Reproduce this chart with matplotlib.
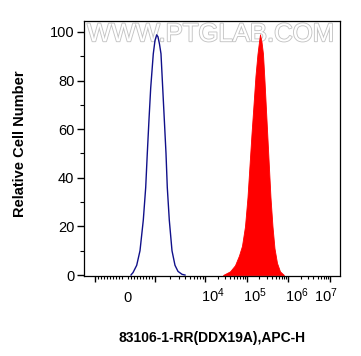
import numpy as np
import matplotlib
matplotlib.use("Agg")
import matplotlib.pyplot as plt
import matplotlib.patheffects as pe
from matplotlib.ticker import FixedLocator, NullFormatter

plt.rcParams["font.family"] = ["Liberation Sans", "DejaVu Sans"]
plt.rcParams["mathtext.fontset"] = "custom"
plt.rcParams["mathtext.rm"] = "Liberation Sans"

# control sample (blue outline), APC-H intensity vs count
ctrl_x = [200, 217, 267, 390, 500, 610, 690, 743, 800, 857, 943, 1000,
          1081, 1148, 1230, 1318, 1426, 1535, 1660, 1762, 1932, 2188,
          2512, 2884, 3467, 3981]
ctrl_y = [0, 0.3, 1, 4, 10, 22.6, 36, 50, 64, 77, 91, 96.5,
          98.8, 98, 95, 91, 77, 64, 50, 36, 22.6, 10,
          4, 1.5, 0.3, 0]

# stained sample (red fill)
stain_x = [27000, 39800, 52400, 65300, 77100, 91000, 104500, 116700,
           130300, 145600, 162500, 181500, 197300, 208500, 226500, 246000,
           267300, 290300, 315400, 342600, 372200, 415900, 464500, 533400,
           629500, 783000]
stain_y = [0, 1.5, 4, 8, 12, 20, 32, 45,
           58, 70, 82, 91, 96, 99, 96, 91,
           80, 68, 56, 44, 32, 20, 11, 5,
           1.5, 0]

x_major = [-1000, 1000, 1e4, 1e5, 1e6, 1e7]
x_labels = ["0", "$\\mathregular{10^4}$", "$\\mathregular{10^5}$",
            "$\\mathregular{10^6}$", "$\\mathregular{10^7}$"]
x_label_pos = [0, 1e4, 1e5, 1e6, 1e7]
x_label_shift = [2, 6, 6, 6, -3]   # points, to sit like the original

# biexponential-like display transform (linear near zero, log beyond)
Z, H, W1, D = 125.0, 30.0, 50.0, 41.7


def fwd(v):
    v = np.atleast_1d(np.asarray(v, dtype=float))
    u = np.zeros_like(v)
    lin = np.abs(v) <= 1000
    u[lin] = Z + H * v[lin] / 1000
    mid = (v > 1000) & (v <= 1e4)
    u[mid] = Z + H + W1 * np.log10(v[mid] / 1000)
    hi = v > 1e4
    u[hi] = Z + H + W1 + D * (np.log10(v[hi]) - 4)
    neg = v < -1000
    u[neg] = Z - H - W1 * np.log10(-v[neg] / 1000)
    return u


def inv(u):
    u = np.atleast_1d(np.asarray(u, dtype=float))
    v = np.zeros_like(u)
    lin = np.abs(u - Z) <= H
    v[lin] = (u[lin] - Z) / H * 1000
    mid = (u > Z + H) & (u <= Z + H + W1)
    v[mid] = 1000 * 10 ** ((u[mid] - Z - H) / W1)
    hi = u > Z + H + W1
    v[hi] = 10 ** (4 + (u[hi] - Z - H - W1) / D)
    neg = u < Z - H
    v[neg] = -1000 * 10 ** ((Z - H - u[neg]) / W1)
    return v


fig = plt.figure(figsize=(3.61, 3.56), dpi=100)
ax = fig.add_axes([84 / 361, 1 - 276 / 356, 256 / 361, 255 / 356])
ax.set_xscale("function", functions=(fwd, inv))
ax.set_xlim(-1660, 1.73e7)
ax.set_ylim(-0.4, 104.5)

ax.fill_between(stain_x, stain_y, 0, color="#ff0000", lw=0.6, zorder=2)
ax.plot(ctrl_x, ctrl_y, color="#10108a", lw=1.0, zorder=3)

# x ticks
minor = [s * m for s in (-1, 1) for m in range(100, 1000, 100)]
for dec in range(3, 7):
    minor += [k * 10 ** dec for k in range(2, 10)]
ax.xaxis.set_major_locator(FixedLocator(x_major))
ax.xaxis.set_minor_locator(FixedLocator(minor))
ax.xaxis.set_major_formatter(NullFormatter())
ax.xaxis.set_minor_formatter(NullFormatter())
ax.tick_params(axis="x", which="major", direction="out", length=4.5, width=1.0)
ax.tick_params(axis="x", which="minor", direction="out", length=2.2, width=0.8)

for pos, lab, sh in zip(x_label_pos, x_labels, x_label_shift):
    ax.annotate(lab, xy=(pos, 0), xycoords=("data", "axes fraction"),
                xytext=(sh, -19), textcoords="offset points",
                ha="center", va="baseline", fontsize=10.5)

# y ticks
ax.set_yticks(np.arange(0, 101, 20))
ax.set_yticks(np.arange(10, 101, 20), minor=True)
ax.tick_params(axis="y", which="major", direction="out", length=5, width=1.0,
               labelsize=10.5, pad=2)
ax.tick_params(axis="y", which="minor", direction="out", length=3, width=0.8)

for sp in ax.spines.values():
    sp.set_linewidth(0.9)

ax.set_ylabel("Relative Cell Number", fontsize=10.5, fontweight="bold")
ax.yaxis.set_label_coords(-0.223, 0.52)
ax.set_xlabel("83106-1-RR(DDX19A),APC-H", fontsize=10, fontweight="bold")
ax.xaxis.set_label_coords(0.5, -0.215)

# watermark
ax.text(0.495, 0.948, "WWW.PTGLAB.COM", transform=ax.transAxes,
        ha="center", va="center", fontsize=18.5, color="white",
        path_effects=[pe.withStroke(linewidth=1.3, foreground="#c4c4c4")],
        zorder=1)

fig.savefig("out.png", dpi=100)
